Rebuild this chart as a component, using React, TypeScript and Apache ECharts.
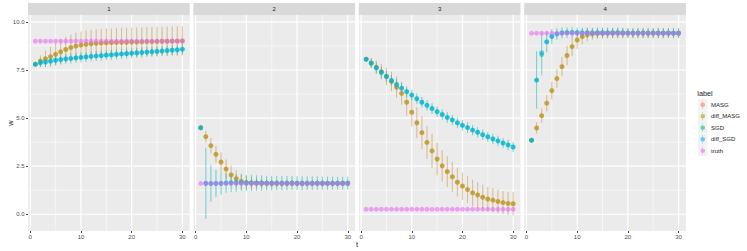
import React, { useEffect, useRef } from 'react';
import * as echarts from 'echarts';

// ---------- data ----------
const tValues = [1, 2, 3, 4, 5, 6, 7, 8, 9, 10, 11, 12, 13, 14, 15, 16, 17, 18, 19, 20, 21, 22, 23, 24, 25, 26, 27, 28, 29, 30];
const panelLabels = ['1', '2', '3', '4'];
const methods = ['MASG', 'diff_MASG', 'SGD', 'diff_SGD', 'truth'];
const methodColors = ['#F8766D', '#A3A500', '#00BF7D', '#00B0F6', '#E76BF3'];
const xTicks = [0, 10, 20, 30];
const xMinorTicks = [5, 15, 25];
const yTicks = [0, 2.5, 5, 7.5, 10];
const yMinorTicks = [1.25, 3.75, 6.25, 8.75];

// panel 1
const masg1 = [7.80, 7.97, 8.09, 8.20, 8.32, 8.45, 8.57, 8.67, 8.75, 8.80, 8.84, 8.87, 8.89, 8.91, 8.92, 8.93, 8.94, 8.95, 8.95, 8.96, 8.96, 8.97, 8.98, 8.98, 8.99, 9.00, 9.00, 9.01, 9.01, 9.02];
const diffMasg1 = [7.80, 7.96, 8.08, 8.19, 8.31, 8.44, 8.56, 8.66, 8.74, 8.79, 8.83, 8.86, 8.88, 8.90, 8.91, 8.92, 8.93, 8.94, 8.94, 8.95, 8.95, 8.96, 8.97, 8.97, 8.98, 8.99, 8.99, 9.00, 9.00, 9.01];
const errMasg1 = [0, 0.30, 0.42, 0.52, 0.58, 0.62, 0.65, 0.68, 0.70, 0.70, 0.72, 0.72, 0.73, 0.73, 0.74, 0.74, 0.74, 0.75, 0.75, 0.75, 0.76, 0.75, 0.75, 0.76, 0.76, 0.75, 0.76, 0.76, 0.76, 0.76];
const sgd1 = [7.80, 7.88, 7.92, 7.96, 8.00, 8.04, 8.07, 8.10, 8.13, 8.16, 8.18, 8.20, 8.23, 8.25, 8.27, 8.29, 8.31, 8.33, 8.35, 8.37, 8.39, 8.41, 8.43, 8.45, 8.47, 8.49, 8.51, 8.53, 8.55, 8.58];
const diffSgd1 = [7.80, 7.88, 7.91, 7.96, 8.01, 8.04, 8.08, 8.10, 8.13, 8.15, 8.18, 8.21, 8.23, 8.25, 8.27, 8.29, 8.31, 8.33, 8.35, 8.37, 8.39, 8.41, 8.43, 8.45, 8.47, 8.49, 8.51, 8.53, 8.55, 8.58];
const errSgd1 = [0, 0.22, 0.25, 0.25, 0.25, 0.26, 0.25, 0.26, 0.25, 0.26, 0.25, 0.25, 0.26, 0.25, 0.25, 0.26, 0.25, 0.25, 0.26, 0.25, 0.25, 0.26, 0.25, 0.25, 0.26, 0.25, 0.25, 0.26, 0.25, 0.26];
const truth1 = [9, 9, 9, 9, 9, 9, 9, 9, 9, 9, 9, 9, 9, 9, 9, 9, 9, 9, 9, 9, 9, 9, 9, 9, 9, 9, 9, 9, 9, 9];

// panel 2
const masg2 = [4.50, 4.04, 3.57, 3.12, 2.72, 2.36, 2.04, 1.84, 1.70, 1.65, 1.62, 1.62, 1.61, 1.61, 1.60, 1.61, 1.60, 1.60, 1.61, 1.60, 1.60, 1.60, 1.60, 1.61, 1.60, 1.60, 1.60, 1.60, 1.61, 1.60];
const diffMasg2 = [4.50, 4.03, 3.56, 3.11, 2.71, 2.35, 2.05, 1.85, 1.71, 1.65, 1.63, 1.62, 1.61, 1.61, 1.61, 1.60, 1.60, 1.61, 1.60, 1.60, 1.61, 1.60, 1.60, 1.60, 1.61, 1.60, 1.60, 1.61, 1.60, 1.60];
const errMasg2 = [0, 0.30, 0.40, 0.45, 0.50, 0.50, 0.48, 0.45, 0.40, 0.35, 0.30, 0.25, 0.22, 0.20, 0.20, 0.18, 0.18, 0.18, 0.17, 0.17, 0.16, 0.16, 0.16, 0.15, 0.15, 0.15, 0.15, 0.15, 0.15, 0.15];
const sgd2 = [4.50, 1.60, 1.60, 1.60, 1.61, 1.63, 1.64, 1.63, 1.64, 1.63, 1.62, 1.63, 1.63, 1.62, 1.62, 1.62, 1.61, 1.62, 1.63, 1.61, 1.61, 1.61, 1.62, 1.62, 1.62, 1.61, 1.62, 1.61, 1.62, 1.62];
const diffSgd2 = [4.50, 1.62, 1.60, 1.61, 1.60, 1.62, 1.63, 1.64, 1.63, 1.62, 1.63, 1.62, 1.62, 1.62, 1.61, 1.62, 1.62, 1.61, 1.62, 1.62, 1.61, 1.62, 1.61, 1.62, 1.61, 1.62, 1.61, 1.62, 1.61, 1.62];
const errSgd2 = [0, 1.85, 0.95, 0.70, 0.58, 0.50, 0.48, 0.45, 0.42, 0.42, 0.42, 0.40, 0.40, 0.38, 0.38, 0.37, 0.37, 0.37, 0.36, 0.36, 0.36, 0.35, 0.35, 0.35, 0.34, 0.34, 0.34, 0.33, 0.33, 0.33];
const truth2 = [1.6, 1.6, 1.6, 1.6, 1.6, 1.6, 1.6, 1.6, 1.6, 1.6, 1.6, 1.6, 1.6, 1.6, 1.6, 1.6, 1.6, 1.6, 1.6, 1.6, 1.6, 1.6, 1.6, 1.6, 1.6, 1.6, 1.6, 1.6, 1.6, 1.6];

// panel 3
const masg3 = [8.06, 7.87, 7.65, 7.42, 7.16, 6.90, 6.60, 6.29, 5.82, 5.30, 4.76, 4.24, 3.74, 3.29, 2.88, 2.51, 2.22, 1.94, 1.66, 1.47, 1.28, 1.12, 1.00, 0.88, 0.80, 0.73, 0.66, 0.60, 0.57, 0.54];
const diffMasg3 = [8.06, 7.86, 7.64, 7.41, 7.17, 6.91, 6.61, 6.28, 5.83, 5.31, 4.75, 4.25, 3.73, 3.30, 2.87, 2.52, 2.21, 1.95, 1.67, 1.46, 1.29, 1.11, 1.01, 0.89, 0.79, 0.74, 0.67, 0.61, 0.56, 0.55];
const errMasg3 = [0, 0.25, 0.35, 0.40, 0.45, 0.50, 0.55, 0.60, 0.70, 0.75, 0.80, 0.85, 0.85, 0.88, 0.85, 0.82, 0.80, 0.78, 0.75, 0.72, 0.70, 0.68, 0.66, 0.65, 0.63, 0.62, 0.61, 0.60, 0.60, 0.60];
const sgd3 = [8.06, 7.85, 7.61, 7.38, 7.16, 6.95, 6.74, 6.55, 6.38, 6.19, 6.00, 5.82, 5.67, 5.49, 5.34, 5.18, 5.04, 4.90, 4.75, 4.63, 4.50, 4.38, 4.26, 4.14, 4.02, 3.92, 3.81, 3.71, 3.60, 3.50];
const diffSgd3 = [8.06, 7.86, 7.62, 7.37, 7.17, 6.96, 6.75, 6.56, 6.37, 6.20, 6.01, 5.83, 5.66, 5.50, 5.33, 5.19, 5.03, 4.91, 4.76, 4.62, 4.51, 4.37, 4.27, 4.13, 4.03, 3.91, 3.82, 3.70, 3.61, 3.49];
const errSgd3 = [0, 0.25, 0.27, 0.28, 0.28, 0.28, 0.28, 0.27, 0.28, 0.27, 0.28, 0.27, 0.27, 0.28, 0.27, 0.27, 0.28, 0.27, 0.27, 0.27, 0.28, 0.27, 0.27, 0.27, 0.26, 0.27, 0.27, 0.26, 0.27, 0.26];
const truth3 = [0.26, 0.26, 0.26, 0.26, 0.26, 0.26, 0.26, 0.26, 0.26, 0.26, 0.26, 0.26, 0.26, 0.26, 0.26, 0.26, 0.26, 0.26, 0.26, 0.26, 0.26, 0.26, 0.26, 0.26, 0.26, 0.26, 0.26, 0.26, 0.26, 0.26];

// panel 4
const masg4 = [3.85, 4.49, 5.13, 5.77, 6.43, 7.05, 7.68, 8.25, 8.72, 9.06, 9.24, 9.34, 9.38, 9.40, 9.41, 9.41, 9.42, 9.42, 9.41, 9.42, 9.41, 9.42, 9.42, 9.41, 9.42, 9.42, 9.41, 9.42, 9.41, 9.42];
const diffMasg4 = [3.85, 4.48, 5.12, 5.78, 6.42, 7.06, 7.67, 8.26, 8.71, 9.05, 9.23, 9.33, 9.38, 9.40, 9.40, 9.41, 9.41, 9.42, 9.42, 9.41, 9.42, 9.41, 9.41, 9.42, 9.41, 9.41, 9.42, 9.41, 9.42, 9.41];
const errMasg4 = [0, 0.30, 0.38, 0.42, 0.45, 0.48, 0.50, 0.50, 0.48, 0.45, 0.40, 0.35, 0.30, 0.28, 0.27, 0.26, 0.26, 0.25, 0.25, 0.25, 0.25, 0.25, 0.25, 0.25, 0.25, 0.25, 0.25, 0.25, 0.25, 0.25];
const sgd4 = [3.85, 6.98, 8.30, 8.96, 9.24, 9.38, 9.43, 9.44, 9.45, 9.44, 9.43, 9.44, 9.43, 9.43, 9.44, 9.43, 9.43, 9.44, 9.43, 9.42, 9.42, 9.42, 9.43, 9.42, 9.42, 9.43, 9.42, 9.42, 9.42, 9.42];
const diffSgd4 = [3.85, 6.97, 8.40, 8.97, 9.25, 9.37, 9.43, 9.44, 9.44, 9.44, 9.43, 9.43, 9.43, 9.44, 9.43, 9.43, 9.44, 9.43, 9.43, 9.43, 9.42, 9.43, 9.42, 9.42, 9.43, 9.42, 9.42, 9.43, 9.42, 9.42];
const errSgd4 = [0, 1.50, 1.10, 0.55, 0.38, 0.30, 0.28, 0.27, 0.27, 0.26, 0.27, 0.26, 0.26, 0.27, 0.28, 0.26, 0.26, 0.27, 0.26, 0.26, 0.25, 0.26, 0.26, 0.25, 0.26, 0.27, 0.26, 0.25, 0.26, 0.25];
const truth4 = [9.41, 9.41, 9.41, 9.41, 9.41, 9.41, 9.41, 9.41, 9.41, 9.41, 9.41, 9.41, 9.41, 9.41, 9.41, 9.41, 9.41, 9.41, 9.41, 9.41, 9.41, 9.41, 9.41, 9.41, 9.41, 9.41, 9.41, 9.41, 9.41, 9.41];

// per panel: values for each method, and error half-widths (truth has none)
const panelValues = [
  [masg1, diffMasg1, sgd1, diffSgd1, truth1],
  [masg2, diffMasg2, sgd2, diffSgd2, truth2],
  [masg3, diffMasg3, sgd3, diffSgd3, truth3],
  [masg4, diffMasg4, sgd4, diffSgd4, truth4],
];
const panelErrors = [
  [errMasg1, errMasg1, errSgd1, errSgd1, null],
  [errMasg2, errMasg2, errSgd2, errSgd2, null],
  [errMasg3, errMasg3, errSgd3, errSgd3, null],
  [errMasg4, errMasg4, errSgd4, errSgd4, null],
];

// ---------- layout ----------
const W = 747;
const H = 251;
const FONT = '"Liberation Sans", Arial, Helvetica, sans-serif';
const PANEL_LEFT = 28;
const PANEL_W = 161.7;
const PANEL_GAP = 3.7;
const PANEL_TOP = 15;
const PANEL_H = 216;
const STRIP_TOP = 3;
const STRIP_H = 12;
const X_MIN = -0.45;
const X_MAX = 31.45;
const Y_MIN = -0.87;
const Y_MAX = 10.36;
const POINT_OPACITY = 0.6;
const BAR_OPACITY = 0.3;

const panelLeft = (i: number) => PANEL_LEFT + i * (PANEL_W + PANEL_GAP);

function buildOption() {
  const grids: any[] = [];
  const xAxes: any[] = [];
  const yAxes: any[] = [];
  const series: any[] = [];
  const graphics: any[] = [];

  const gridData: number[][] = [
    ...xMinorTicks.map((v) => [v, 0, 0]),
    ...yMinorTicks.map((v) => [v, 1, 0]),
    ...xTicks.map((v) => [v, 0, 1]),
    ...yTicks.map((v) => [v, 1, 1]),
  ];

  panelLabels.forEach((lab, p) => {
    const left = panelLeft(p);
    grids.push({
      left,
      top: PANEL_TOP,
      width: PANEL_W,
      height: PANEL_H,
      show: true,
      backgroundColor: '#EBEBEB',
      borderWidth: 0,
      containLabel: false,
      outerBoundsMode: 'none',
    });
    xAxes.push({
      type: 'value',
      gridIndex: p,
      min: X_MIN,
      max: X_MAX,
      splitLine: { show: false },
      minorSplitLine: { show: false },
      axisLine: { show: false, onZero: false },
      axisTick: { show: true, customValues: xTicks, length: 2, lineStyle: { color: '#333333', width: 0.9 } },
      axisLabel: {
        show: true,
        customValues: xTicks,
        fontSize: 6,
        color: '#4D4D4D',
        fontFamily: FONT,
        margin: 3,
      },
    });
    yAxes.push({
      type: 'value',
      gridIndex: p,
      min: Y_MIN,
      max: Y_MAX,
      splitLine: { show: false },
      minorSplitLine: { show: false },
      axisLine: { show: false, onZero: false },
      axisTick: p === 0
        ? { show: true, customValues: yTicks, length: 2, lineStyle: { color: '#333333', width: 0.9 } }
        : { show: false },
      axisLabel: p === 0
        ? {
            show: true,
            customValues: yTicks,
            formatter: (v: number) => v.toFixed(1),
            fontSize: 6,
            color: '#4D4D4D',
            fontFamily: FONT,
            margin: 3.5,
          }
        : { show: false },
    });

    // grid lines through the axis scales
    series.push({
      type: 'custom',
      xAxisIndex: p,
      yAxisIndex: p,
      silent: true,
      z: 1,
      data: gridData,
      renderItem: (params: any, api: any) => {
        const cs = params.coordSys;
        const v = api.value(0);
        const orient = api.value(1);
        const major = api.value(2);
        const lw = major ? 1.2 : 0.6;
        if (orient === 0) {
          const x = api.coord([v, Y_MIN])[0];
          return {
            type: 'line',
            shape: { x1: x, y1: cs.y, x2: x, y2: cs.y + cs.height },
            style: { stroke: '#FFFFFF', lineWidth: lw },
          };
        }
        const y = api.coord([X_MIN, v])[1];
        return {
          type: 'line',
          shape: { x1: cs.x, y1: y, x2: cs.x + cs.width, y2: y },
          style: { stroke: '#FFFFFF', lineWidth: lw },
        };
      },
    });

    // error bars (all groups) then points (all groups)
    methods.forEach((m, k) => {
      const vals = panelValues[p][k];
      const errs = panelErrors[p][k];
      if (!errs) return;
      const color = methodColors[k];
      series.push({
        type: 'custom',
        xAxisIndex: p,
        yAxisIndex: p,
        silent: true,
        z: 2,
        encode: { x: 0, y: [1, 2] },
        data: tValues.map((t, i) => [t, vals[i] - errs[i], vals[i] + errs[i]]),
        renderItem: (params: any, api: any) => {
          const a = api.coord([api.value(0), api.value(1)]);
          const b = api.coord([api.value(0), api.value(2)]);
          return {
            type: 'line',
            shape: { x1: a[0], y1: a[1], x2: b[0], y2: b[1] },
            style: { stroke: color, lineWidth: 1, opacity: BAR_OPACITY },
          };
        },
      });
    });
    methods.forEach((m, k) => {
      const vals = panelValues[p][k];
      series.push({
        type: 'scatter',
        name: m,
        xAxisIndex: p,
        yAxisIndex: p,
        z: 3,
        symbol: 'circle',
        symbolSize: 4.8,
        silent: true,
        itemStyle: { color: methodColors[k], opacity: POINT_OPACITY, borderWidth: 0 },
        data: tValues.map((t, i) => [t, vals[i]]),
      });
    });

    // strip
    graphics.push({
      type: 'rect',
      shape: { x: left, y: STRIP_TOP, width: PANEL_W, height: STRIP_H },
      style: { fill: '#D9D9D9' },
      silent: true,
    });
    graphics.push({
      type: 'text',
      x: left + PANEL_W / 2,
      y: STRIP_TOP + STRIP_H / 2,
      style: {
        text: lab,
        fontSize: 6,
        fontWeight: 'normal',
        fontFamily: FONT,
        fill: '#1A1A1A',
        align: 'center',
        verticalAlign: 'middle',
      },
      silent: true,
    });
  });

  const panelsRight = panelLeft(3) + PANEL_W;
  // axis titles
  graphics.push({
    type: 'text',
    x: (PANEL_LEFT + panelsRight) / 2,
    y: 244,
    style: { text: 't', fontSize: 7.3, fontWeight: 'normal', fontFamily: FONT, fill: '#1A1A1A', align: 'center', verticalAlign: 'middle' },
    silent: true,
  });
  graphics.push({
    type: 'text',
    x: 10,
    y: PANEL_TOP + PANEL_H / 2,
    rotation: Math.PI / 2,
    style: { text: 'w', fontSize: 7.3, fontWeight: 'normal', fontFamily: FONT, fill: '#1A1A1A', align: 'center', verticalAlign: 'middle' },
    silent: true,
  });

  // legend title and key backgrounds
  const LEG_LEFT = 698;
  const LEG_TOP = 99;
  const KEY_W = 9.5;
  const KEY_H = 11.5;
  graphics.push({
    type: 'text',
    x: 697.3,
    y: 93,
    style: { text: 'label', fontSize: 7.3, fontWeight: 'normal', fontFamily: FONT, fill: '#1A1A1A', align: 'left', verticalAlign: 'middle' },
    silent: true,
  });
  methods.forEach((m, k) => {
    graphics.push({
      type: 'rect',
      z: 0,
      shape: { x: LEG_LEFT, y: LEG_TOP + k * KEY_H, width: KEY_W, height: KEY_H },
      style: { fill: '#F2F2F2' },
      silent: true,
    });
  });

  const iconPath =
    'path://M0,0L0.01,0L0,0.01Z M9.5,11.5L9.49,11.5L9.5,11.49Z ' +
    'M4.5,1.5L5,1.5L5,10L4.5,10Z ' +
    'M7.05,5.75A2.3,2.3,0,1,1,2.45,5.75A2.3,2.3,0,1,1,7.05,5.75Z';

  return {
    animation: false,
    backgroundColor: '#FFFFFF',
    textStyle: { fontFamily: FONT },
    grid: grids,
    xAxis: xAxes,
    yAxis: yAxes,
    legend: {
      orient: 'vertical',
      left: LEG_LEFT,
      top: LEG_TOP,
      padding: 0,
      itemGap: 0,
      itemWidth: KEY_W,
      itemHeight: KEY_H,
      selectedMode: false,
      icon: iconPath,
      z: 5,
      textStyle: { fontSize: 6, color: '#1A1A1A', fontFamily: FONT, padding: [0, 0, 0, -1.5] },
      data: methods.map((m) => ({ name: m, itemStyle: { opacity: POINT_OPACITY } })),
    },
    graphic: graphics,
    series,
  };
}

export default function App() {
  const ref = useRef<HTMLDivElement | null>(null);
  useEffect(() => {
    if (!ref.current) return;
    const chart = echarts.init(ref.current, undefined, { renderer: 'svg' });
    chart.setOption(buildOption() as any);
    return () => {
      chart.dispose();
    };
  }, []);
  return (
    <div
      ref={ref}
      style={{ position: 'absolute', left: 0, top: 0, width: W, height: H, background: '#FFFFFF' }}
    />
  );
}
